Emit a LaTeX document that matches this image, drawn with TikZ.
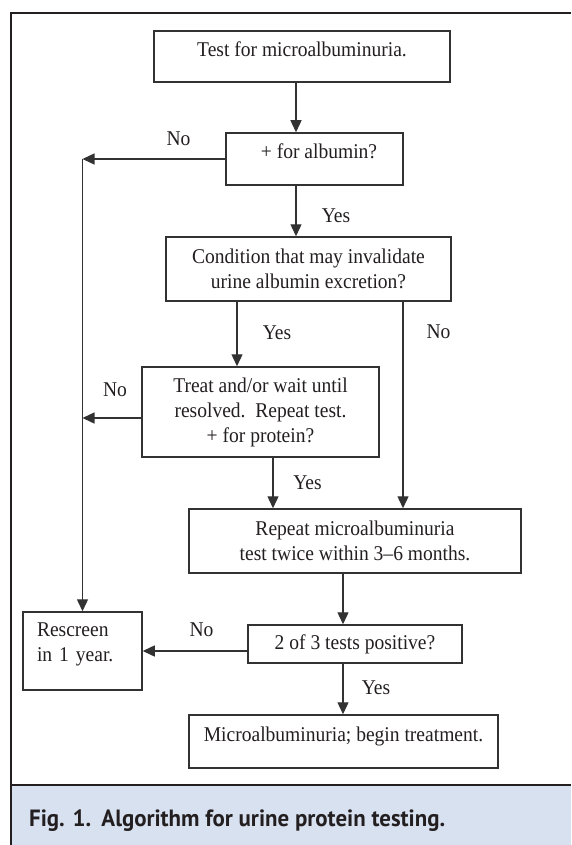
\documentclass[tikz,border=0pt]{standalone}
\usepackage{fontspec}
\setmainfont{Liberation Serif}[FakeStretch=0.93]
\newfontfamily\capfont{PT Sans}
\usetikzlibrary{arrows.meta}
\definecolor{capbg}{RGB}{216,225,239}
\definecolor{ink}{RGB}{35,31,32}
\definecolor{boxline}{RGB}{50,50,50}
\tikzset{
  box/.style={draw=boxline, line width=1.5pt, fill=white, inner sep=0pt,
              font=\fontsize{21}{25}\selectfont, text=ink},
  multi/.style={align=center},
  bmid/.style={text height=14pt, text depth=14pt},
  conn/.style={draw=boxline, line width=1.4pt, -{Triangle[width=11pt,length=12pt]}},
  lab/.style={font=\fontsize{21}{25}\selectfont, inner sep=0pt, text=ink},
  frame/.style={draw=ink, line width=2.5pt},
}
\begin{document}
\begin{tikzpicture}[x=1pt,y=-1pt]
\useasboundingbox (0,0) rectangle (571,845);
% frame and caption panel
\fill[capbg] (11,785) rectangle (571,845);
\draw[frame] (571,13) -- (11,13) -- (11,845);
\draw[frame] (11,785) -- (571,785);
\node[anchor=base west, inner sep=0pt, text=ink] (cap) at (29,826.5)
  {\resizebox{416pt}{\height}{\capfont\bfseries\fontsize{23.5}{28}\selectfont Fig. 1.\hspace{0.45em}Algorithm for urine protein testing.}};

% boxes
\node[box, bmid, minimum width=296pt, minimum height=51pt] (b1) at (302,56.5) {Test for microalbuminuria.};
\node[box, bmid, minimum width=177pt, minimum height=52pt] (b2) at (314.5,159) {\hspace*{9pt}+ for albumin?};
\node[box, multi, minimum width=285pt, minimum height=64pt] (b3) at (308.5,269) {Condition that may invalidate\\urine albumin excretion?};
\node[box, multi, minimum width=237pt, minimum height=90pt] (b4) at (260.5,412) {Treat and/or wait until\\resolved.\ \ Repeat test.\\+ for protein?};
\node[box, multi, minimum width=332pt, minimum height=64pt] (b5) at (355,541) {Repeat microalbuminuria\\test twice within 3--6 months.};
\node[box, minimum width=214pt, minimum height=38pt] (b6) at (355,644) {2 of 3 tests positive?};
\node[box, align=left, text width=91pt, inner xsep=14pt, minimum height=78pt] (r) at (82.5,651) {Rescreen\\in 1 year.\rule[-18pt]{0pt}{18pt}};
\node[box, bmid, minimum width=309pt, minimum height=53pt] (b7) at (343.5,741.5) {Microalbuminuria; begin treatment.};

% columns and junctions
\coordinate (xa) at (296,0);
\coordinate (xb) at (237,0);
\coordinate (xc) at (403,0);
\coordinate (xd) at (273,0);
\coordinate (xe) at (343,0);
\coordinate (j1) at (82.5,159);
\coordinate (j2) at (82.5,418);

% connectors
\draw[conn] (b1.south -| xa) -- (b2.north -| xa);
\draw[conn] (b2.south -| xa) -- (b3.north -| xa);
\draw[conn] (b3.south -| xb) -- (b4.north -| xb);
\draw[conn] (b3.south -| xc) -- (b5.north -| xc);
\draw[conn] (b4.south -| xd) -- (b5.north -| xd);
\draw[conn] (b5.south -| xe) -- (b6.north -| xe);
\draw[conn] (b6.south -| xe) -- (b7.north -| xe);
\draw[conn] (b2.west) -- (j1);
\draw[conn] (b4.west |- j2) -- (j2);
\draw[conn] (j1) -- (r.north);
\draw[conn] (b6.west |- r.east) -- (r.east);

% labels
\node[lab] (l1) at (178.5,139) {No};
\node[lab] (l2) at (336,215.5) {Yes};
\node[lab] (l3) at (277,332.5) {Yes};
\node[lab] (l4) at (438.5,332) {No};
\node[lab] (l5) at (115,390) {No};
\node[lab] (l6) at (307.5,482.5) {Yes};
\node[lab] (l7) at (201.5,630) {No};
\node[lab] (l8) at (376,687.5) {Yes};
\end{tikzpicture}
\end{document}
